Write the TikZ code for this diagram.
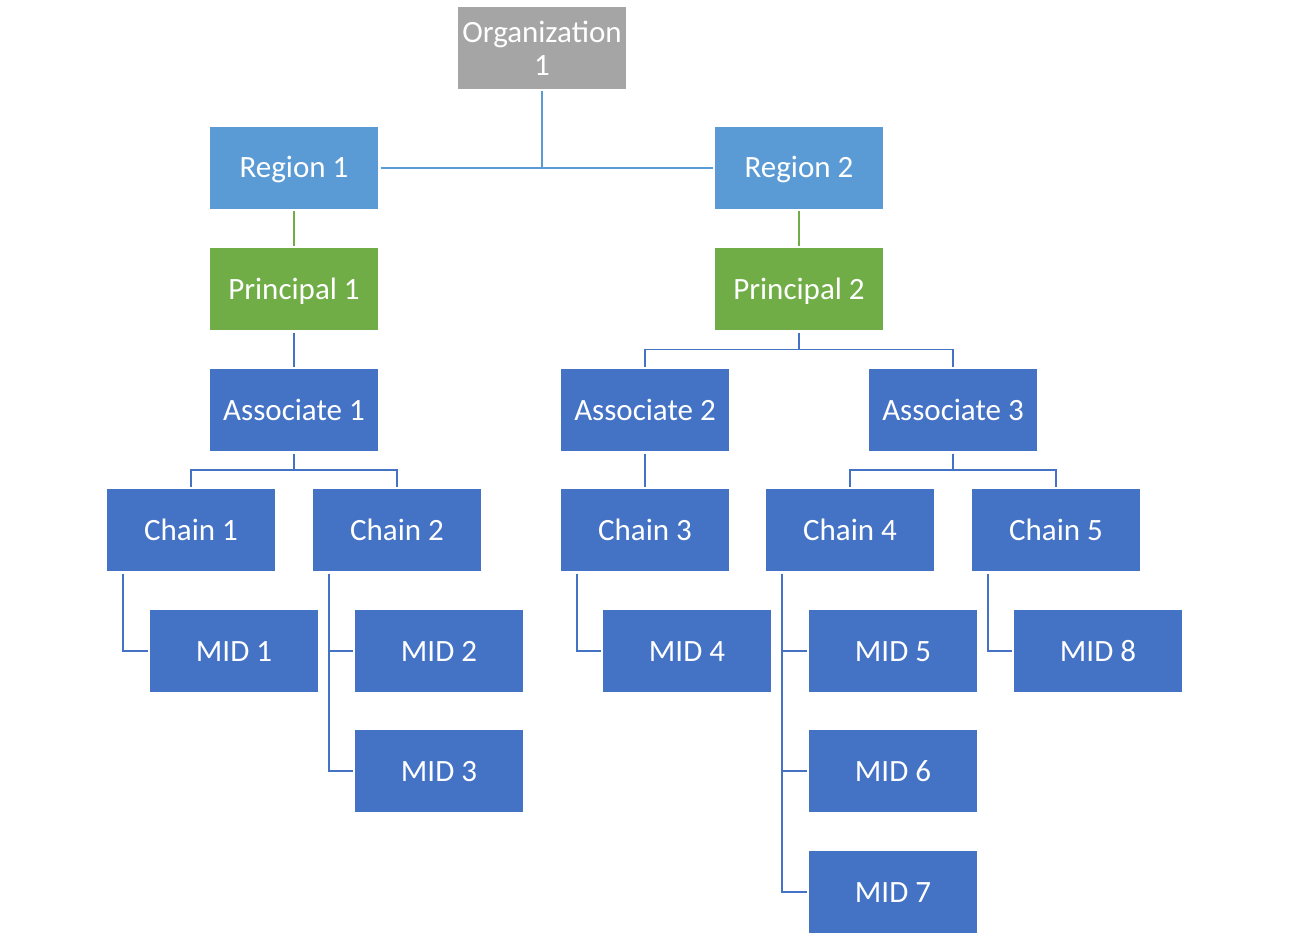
\documentclass[tikz,border=0pt]{standalone}
\usepackage{fontspec}
\setmainfont{Carlito}
\definecolor{orggray}{HTML}{A5A5A5}
\definecolor{reglight}{HTML}{5B9BD5}
\definecolor{prigreen}{HTML}{70AD47}
\definecolor{accblue}{HTML}{4472C4}
\begin{document}
\begin{tikzpicture}[x=1pt,y=-1pt,
  box/.style={draw=none, minimum width=168pt, minimum height=82pt, inner sep=0pt,
    outer sep=2.5pt, text=white, font=\fontsize{31}{33}\selectfont,
    text height=20pt, text depth=0pt},
  orgbox/.style={box, fill=orggray, text height=, text depth=, align=center},
  regbox/.style={box, fill=reglight},
  pribox/.style={box, fill=prigreen},
  bluebox/.style={box, fill=accblue},
  regline/.style={draw=reglight, line width=1.8pt},
  priline/.style={draw=prigreen, line width=1.8pt},
  blueline/.style={draw=accblue, line width=1.8pt}]
\useasboundingbox (0,0) rectangle (1290,936);
\fill[white] (0,0) rectangle (1290,936);

\node[orgbox] (org) at (542,48) {Organization\\1};
\node[regbox] (r1) at (294,168) {Region 1};
\node[regbox] (r2) at (799,168) {Region 2};
\node[pribox] (p1) at (294,289) {Principal 1};
\node[pribox] (p2) at (799,289) {Principal 2};
\node[bluebox] (a1) at (294,410) {Associate 1};
\node[bluebox] (a2) at (645,410) {Associate 2};
\node[bluebox] (a3) at (953,410) {Associate 3};
\node[bluebox] (c1) at (191,530) {Chain 1};
\node[bluebox] (c2) at (397,530) {Chain 2};
\node[bluebox] (c3) at (645,530) {Chain 3};
\node[bluebox] (c4) at (850,530) {Chain 4};
\node[bluebox] (c5) at (1056,530) {Chain 5};
\node[bluebox] (m1) at (234,651) {MID 1};
\node[bluebox] (m2) at (439,651) {MID 2};
\node[bluebox] (m3) at (439,771) {MID 3};
\node[bluebox] (m4) at (687,651) {MID 4};
\node[bluebox] (m5) at (893,651) {MID 5};
\node[bluebox] (m6) at (893,771) {MID 6};
\node[bluebox] (m7) at (893,892) {MID 7};
\node[bluebox] (m8) at (1098,651) {MID 8};

\coordinate (j2) at (799,349.5);
\coordinate (j1) at (294,470);
\coordinate (j3) at (953,470);

\draw[regline] (org.south) -- (org.south |- r1.east);
\draw[regline] (r1.east) -- (r2.west);
\draw[priline] (r1.south) -- (p1.north);
\draw[priline] (r2.south) -- (p2.north);
\draw[blueline] (p1.south) -- (a1.north);
\draw[blueline] (p2.south) -- (j2);
\draw[blueline] (a2.north) |- (j2) -| (a3.north);
\draw[blueline] (a1.south) -- (j1);
\draw[blueline] (c1.north) |- (j1) -| (c2.north);
\draw[blueline] (a2.south) -- (c3.north);
\draw[blueline] (a3.south) -- (j3);
\draw[blueline] (c4.north) |- (j3) -| (c5.north);

\draw[blueline] ([xshift=18.5pt]c1.south west) |- (m1.west);
\draw[blueline] ([xshift=18.5pt]c2.south west) |- (m2.west);
\draw[blueline] ([xshift=18.5pt]c2.south west) |- (m3.west);
\draw[blueline] ([xshift=18.5pt]c3.south west) |- (m4.west);
\draw[blueline] ([xshift=18.5pt]c4.south west) |- (m5.west);
\draw[blueline] ([xshift=18.5pt]c4.south west) |- (m6.west);
\draw[blueline] ([xshift=18.5pt]c4.south west) |- (m7.west);
\draw[blueline] ([xshift=18.5pt]c5.south west) |- (m8.west);
\end{tikzpicture}
\end{document}
